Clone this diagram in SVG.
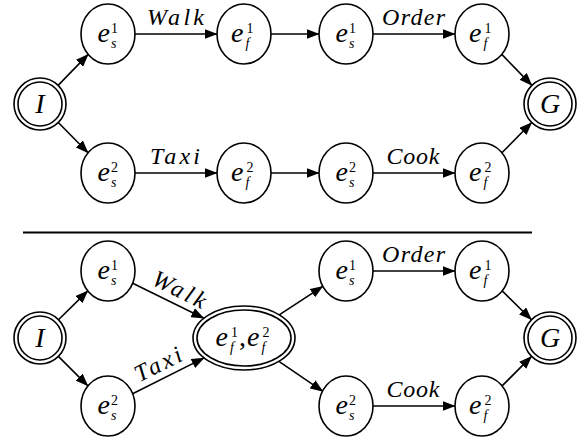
<svg xmlns="http://www.w3.org/2000/svg" width="587" height="443" viewBox="0 0 587 443" font-family="'Liberation Serif', 'DejaVu Serif', serif">
<defs>
<marker id="a" markerUnits="userSpaceOnUse" markerWidth="13" markerHeight="10" viewBox="0 0 13 10" refX="12.5" refY="5" orient="auto"><path d="M0,0 L13,5 L0,10 z" fill="#000"/></marker>
<style>
.n{fill:#fff;stroke:#000;stroke-width:1.6}
.m{font-family:'Liberation Serif','DejaVu Serif',serif;font-style:italic;font-size:28px}
.c{text-anchor:middle}
.sup{font-style:normal;font-size:14px}
.sub{font-style:italic;font-size:14px}
.lbl{font-family:'Liberation Serif','DejaVu Serif',serif;font-style:italic;font-size:24px;text-anchor:middle}
.e{stroke:#000;stroke-width:1.6;fill:none;marker-end:url(#a)}
</style>
</defs>
<rect width="587" height="443" fill="#fff"/>
<g id="connectors">
<line class="e" x1="58.1" y1="85.4" x2="88.2" y2="54.4"/>
<line class="e" x1="58.3" y1="122.5" x2="88.1" y2="152.8"/>
<line class="e" x1="135" y1="34" x2="217" y2="34"/>
<line class="e" x1="271" y1="34" x2="319" y2="34"/>
<line class="e" x1="373" y1="34" x2="455" y2="34"/>
<line class="e" x1="135" y1="173" x2="217" y2="173"/>
<line class="e" x1="271" y1="173" x2="319" y2="173"/>
<line class="e" x1="373" y1="173" x2="455" y2="173"/>
<line class="e" x1="501.8" y1="54.4" x2="531.9" y2="85.4"/>
<line class="e" x1="501.9" y1="152.8" x2="531.7" y2="122.5"/>
<line x1="23" y1="232.5" x2="532" y2="232.5" stroke="#000" stroke-width="2"/>
<line class="e" x1="58.5" y1="319.7" x2="87.8" y2="290.9"/>
<line class="e" x1="58.4" y1="356.4" x2="87.9" y2="385.9"/>
<line class="e" x1="132.7" y1="283.2" x2="203.9" y2="318.2"/>
<line class="e" x1="132.6" y1="393.7" x2="204.1" y2="357.9"/>
<line class="e" x1="279.2" y1="314.9" x2="322.8" y2="286.3"/>
<line class="e" x1="278.9" y1="361.3" x2="322.9" y2="391.4"/>
<line class="e" x1="373" y1="271" x2="455" y2="271"/>
<line class="e" x1="373" y1="406" x2="455" y2="406"/>
<line class="e" x1="502.2" y1="290.9" x2="531.5" y2="319.7"/>
<line class="e" x1="502.1" y1="385.9" x2="531.6" y2="356.4"/>
<text class="lbl" x="175.5" y="25" textLength="57" lengthAdjust="spacing">Walk</text>
<text class="lbl" x="175" y="164" textLength="50" lengthAdjust="spacing">Taxi</text>
<text class="lbl" x="413.5" y="25" textLength="63" lengthAdjust="spacing">Order</text>
<text class="lbl" x="413" y="164" textLength="53" lengthAdjust="spacing">Cook</text>
<text class="lbl" transform="translate(176,296.6) rotate(26.2)" textLength="57" lengthAdjust="spacing">Walk</text>
<text class="lbl" transform="translate(161.7,371.3) rotate(-26.6)" textLength="50" lengthAdjust="spacing">Taxi</text>
<text class="lbl" x="413.5" y="262" textLength="63" lengthAdjust="spacing">Order</text>
<text class="lbl" x="413" y="397" textLength="53" lengthAdjust="spacing">Cook</text>
</g>
<g id="top-I"><circle class="n" cx="40" cy="104" r="26"/><circle class="n" cx="40" cy="104" r="22"/><text class="m c" x="40" y="113">I</text></g>
<g id="top-es1"><ellipse class="n" cx="108" cy="34" rx="27" ry="30"/><text class="m" x="97.5" y="42">e<tspan class="sup" x="111" y="32.5">1</tspan><tspan class="sub" x="111" y="48">s</tspan></text></g>
<g id="top-ef1"><ellipse class="n" cx="244" cy="34" rx="27" ry="30"/><text class="m" x="231" y="42">e<tspan class="sup" x="246.5" y="32.5">1</tspan><tspan class="sub" x="245.5" y="48">f</tspan></text></g>
<g id="top-es1b"><ellipse class="n" cx="346" cy="34" rx="27" ry="30"/><text class="m" x="335.5" y="42">e<tspan class="sup" x="349" y="32.5">1</tspan><tspan class="sub" x="349" y="48">s</tspan></text></g>
<g id="top-ef1b"><ellipse class="n" cx="482" cy="34" rx="27" ry="30"/><text class="m" x="469" y="42">e<tspan class="sup" x="484.5" y="32.5">1</tspan><tspan class="sub" x="483.5" y="48">f</tspan></text></g>
<g id="top-es2"><ellipse class="n" cx="108" cy="173" rx="27" ry="30"/><text class="m" x="97.5" y="181">e<tspan class="sup" x="111" y="171.5">2</tspan><tspan class="sub" x="111" y="187">s</tspan></text></g>
<g id="top-ef2"><ellipse class="n" cx="244" cy="173" rx="27" ry="30"/><text class="m" x="231" y="181">e<tspan class="sup" x="246.5" y="171.5">2</tspan><tspan class="sub" x="245.5" y="187">f</tspan></text></g>
<g id="top-es2b"><ellipse class="n" cx="346" cy="173" rx="27" ry="30"/><text class="m" x="335.5" y="181">e<tspan class="sup" x="349" y="171.5">2</tspan><tspan class="sub" x="349" y="187">s</tspan></text></g>
<g id="top-ef2b"><ellipse class="n" cx="482" cy="173" rx="27" ry="30"/><text class="m" x="469" y="181">e<tspan class="sup" x="484.5" y="171.5">2</tspan><tspan class="sub" x="483.5" y="187">f</tspan></text></g>
<g id="top-G"><circle class="n" cx="550" cy="104" r="26"/><circle class="n" cx="550" cy="104" r="22"/><text class="m c" x="550" y="113">G</text></g>
<g id="bot-I"><circle class="n" cx="40" cy="338" r="26"/><circle class="n" cx="40" cy="338" r="22"/><text class="m c" x="40" y="347">I</text></g>
<g id="bot-es1"><ellipse class="n" cx="108" cy="271" rx="27" ry="30"/><text class="m" x="97.5" y="279">e<tspan class="sup" x="111" y="269.5">1</tspan><tspan class="sub" x="111" y="285">s</tspan></text></g>
<g id="bot-es2"><ellipse class="n" cx="108" cy="406" rx="27" ry="30"/><text class="m" x="97.5" y="414">e<tspan class="sup" x="111" y="404.5">2</tspan><tspan class="sub" x="111" y="420">s</tspan></text></g>
<g id="bot-merged"><ellipse class="n" cx="244" cy="338" rx="51" ry="32"/><ellipse class="n" cx="244" cy="338" rx="47" ry="28"/><text class="m" x="215.5" y="346">e<tspan class="sup" x="231" y="336.5">1</tspan><tspan class="sub" x="230" y="352">f</tspan><tspan style="font-style:normal" x="239" y="346">,</tspan><tspan x="247" y="346">e</tspan><tspan class="sup" x="262.5" y="336.5">2</tspan><tspan class="sub" x="261.5" y="352">f</tspan></text></g>
<g id="bot-es1b"><ellipse class="n" cx="346" cy="271" rx="27" ry="30"/><text class="m" x="335.5" y="279">e<tspan class="sup" x="349" y="269.5">1</tspan><tspan class="sub" x="349" y="285">s</tspan></text></g>
<g id="bot-ef1"><ellipse class="n" cx="482" cy="271" rx="27" ry="30"/><text class="m" x="469" y="279">e<tspan class="sup" x="484.5" y="269.5">1</tspan><tspan class="sub" x="483.5" y="285">f</tspan></text></g>
<g id="bot-es2b"><ellipse class="n" cx="346" cy="406" rx="27" ry="30"/><text class="m" x="335.5" y="414">e<tspan class="sup" x="349" y="404.5">2</tspan><tspan class="sub" x="349" y="420">s</tspan></text></g>
<g id="bot-ef2"><ellipse class="n" cx="482" cy="406" rx="27" ry="30"/><text class="m" x="469" y="414">e<tspan class="sup" x="484.5" y="404.5">2</tspan><tspan class="sub" x="483.5" y="420">f</tspan></text></g>
<g id="bot-G"><circle class="n" cx="550" cy="338" r="26"/><circle class="n" cx="550" cy="338" r="22"/><text class="m c" x="550" y="347">G</text></g>
</svg>
